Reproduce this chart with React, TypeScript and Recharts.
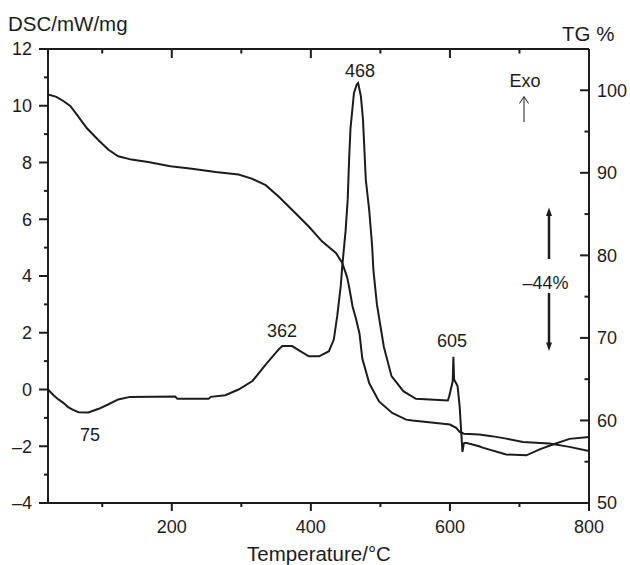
import React from "react";
import { ComposedChart, Line, XAxis, YAxis } from "recharts";

// DSC / TG thermogram.

const FONT = '"Liberation Sans", Arial, Helvetica, sans-serif';
const INK = "#1c1c1c";

const dscTemp = [
  22, 30, 37, 44, 51, 58, 66, 80, 95, 109, 123, 140, 205, 208, 253, 256, 277, 296, 316, 335,
  354, 359, 373, 383, 397, 412, 426, 433, 438, 443, 445, 450, 453, 455, 457, 462, 466, 468,
  472, 475, 477, 479, 484, 488, 490, 495, 505, 516, 533, 551, 597, 599, 604, 605, 606, 611,
  614, 616, 618, 620, 623, 642, 647, 681, 710, 729, 748, 772, 800,
];
const dscValue = [
  0.0, -0.2, -0.35, -0.47, -0.62, -0.72, -0.8, -0.81, -0.68, -0.52, -0.35, -0.26, -0.25, -0.33,
  -0.33, -0.26, -0.2, 0.0, 0.3, 0.88, 1.42, 1.53, 1.53, 1.38, 1.17, 1.17, 1.35, 1.76, 2.6, 3.65,
  4.3, 5.6, 6.7, 8.1, 9.2, 10.45, 10.75, 10.8, 10.33, 9.5, 8.45, 7.4, 6.3, 5.1, 4.2, 3.0, 1.5,
  0.47, -0.06, -0.33, -0.39, -0.24, 0.29, 1.15, 0.35, 0.12, -0.6, -1.4, -2.2, -1.9, -1.88, -2.0,
  -2.05, -2.29, -2.32, -2.11, -1.94, -1.74, -1.67,
];

const tgTemp = [
  22, 34, 44, 54, 63, 78, 94, 109, 123, 142, 166, 198, 229, 263, 296, 315, 335, 354, 378, 397,
  416, 436, 445, 452, 455, 460, 465, 470, 474, 484, 498, 517, 537, 546, 580, 600, 609, 614,
  620, 642, 660, 681, 705, 743, 772, 800,
];
const tgValue = [
  99.5, 99.2, 98.7, 98.1, 97.1, 95.4, 94.0, 92.8, 92.0, 91.6, 91.3, 90.8, 90.5, 90.1, 89.8, 89.3,
  88.5, 87.1, 85.1, 83.5, 81.7, 80.3, 79.1, 77.4, 76.2, 73.8, 72.3, 70.5, 67.5, 64.5, 62.3, 60.9,
  60.1, 60.0, 59.7, 59.5, 59.1, 58.6, 58.4, 58.3, 58.1, 57.8, 57.4, 57.2, 56.8, 56.3,
];

const tempTicks = [100, 200, 300, 400, 500, 600, 700, 800];
const dscTicks = [-4, -3, -2, -1, 0, 1, 2, 3, 4, 5, 6, 7, 8, 9, 10, 11, 12];
const tgTicks = [50, 55, 60, 65, 70, 75, 80, 85, 90, 95, 100, 105];

const dscData = dscTemp.map((t, i) => ({ t, v: dscValue[i] }));
const tgData = tgTemp.map((t, i) => ({ t, v: tgValue[i] }));

const txt = { fontFamily: FONT, fontSize: 18, fill: INK };
const dash = (v: number) => (v < 0 ? `–${Math.abs(v)}` : `${v}`);

// custom ticks: long major / short minor marks, labels only on majors
function LeftTick({ x, y, payload }: any) {
  const major = payload.value % 2 === 0;
  return (
    <g>
      <line x1={x - (major ? 9 : 4)} x2={x} y1={y} y2={y} stroke={INK} strokeWidth={2} />
      {major && (
        <text x={x - 16} y={y} dy="0.36em" textAnchor="end" {...txt}>
          {dash(payload.value)}
        </text>
      )}
    </g>
  );
}

function RightTick({ x, y, payload }: any) {
  const major = payload.value % 10 === 0;
  return (
    <g>
      <line x1={x - (major ? 9 : 4.5)} x2={x} y1={y} y2={y} stroke={INK} strokeWidth={2} />
      {major && (
        <text x={x + 8} y={y} dy="0.36em" textAnchor="start" {...txt}>
          {payload.value}
        </text>
      )}
    </g>
  );
}

function BottomTick({ x, y, payload }: any) {
  const major = payload.value % 200 === 0;
  return (
    <g>
      <line x1={x} x2={x} y1={y} y2={y + (major ? 8 : 4)} stroke={INK} strokeWidth={2} />
      {major && (
        <text x={x} y={y + 30} textAnchor="middle" {...txt}>
          {payload.value}
        </text>
      )}
    </g>
  );
}

function TopTick({ x, y, payload }: any) {
  const major = payload.value % 200 === 0;
  return <line x1={x} x2={x} y1={y} y2={y + (major ? 9 : 4.5)} stroke={INK} strokeWidth={2} />;
}

const axisLine = { stroke: INK, strokeWidth: 2 };

export default function App() {
  return (
    <div style={{ position: "absolute", left: 0, top: 0, width: 630, height: 565, background: "#fff" }}>
      <ComposedChart width={630} height={565} margin={{ top: 39, right: 0, bottom: 0, left: 0 }}>
        <XAxis
          dataKey="t"
          type="number"
          domain={[22, 800]}
          allowDataOverflow
          ticks={tempTicks}
          interval={0}
          height={62}
          tickSize={0}
          tickMargin={0}
          tickLine={false}
          axisLine={axisLine}
          tick={<BottomTick />}
        />
        <XAxis
          xAxisId="top"
          orientation="top"
          dataKey="t"
          type="number"
          domain={[22, 800]}
          allowDataOverflow
          ticks={tempTicks}
          interval={0}
          height={10}
          tickSize={0}
          tickMargin={0}
          tickLine={false}
          axisLine={axisLine}
          tick={<TopTick />}
        />
        <YAxis
          yAxisId="dsc"
          type="number"
          domain={[-4, 12]}
          allowDataOverflow
          ticks={dscTicks}
          interval={0}
          width={48}
          tickSize={0}
          tickMargin={0}
          tickLine={false}
          axisLine={axisLine}
          tick={<LeftTick />}
        />
        <YAxis
          yAxisId="tg"
          orientation="right"
          type="number"
          domain={[50, 105]}
          allowDataOverflow
          ticks={tgTicks}
          interval={0}
          width={41}
          tickSize={0}
          tickMargin={0}
          tickLine={false}
          axisLine={axisLine}
          tick={<RightTick />}
        />
        <Line
          xAxisId="top"
          yAxisId="tg"
          data={tgData}
          dataKey="v"
          type="linear"
          stroke={INK}
          strokeWidth={2}
          dot={false}
          isAnimationActive={false}
        />
        <Line
          yAxisId="dsc"
          data={dscData}
          dataKey="v"
          type="linear"
          stroke={INK}
          strokeWidth={2}
          dot={false}
          isAnimationActive={false}
        />
      </ComposedChart>

      <svg
        width={630}
        height={565}
        style={{ position: "absolute", left: 0, top: 0, pointerEvents: "none" }}
      >
        <text x={8} y={31} style={{ fontFamily: FONT, fontSize: 20.5 }} fill={INK}>
          DSC/mW/mg
        </text>
        <text x={562} y={40.5} style={{ fontFamily: FONT, fontSize: 20.5 }} fill={INK}>
          TG %
        </text>
        <text x={319} y={561} textAnchor="middle" style={{ fontFamily: FONT, fontSize: 20.5 }} fill={INK}>
          Temperature/°C
        </text>

        <text x={360} y={77} textAnchor="middle" {...txt}>468</text>
        <text x={282} y={337} textAnchor="middle" {...txt}>362</text>
        <text x={452} y={346.5} textAnchor="middle" {...txt}>605</text>
        <text x={90} y={441} textAnchor="middle" {...txt}>75</text>

        <text x={525} y={87} textAnchor="middle" {...txt}>Exo</text>
        <line x1={524} x2={524} y1={97} y2={122} stroke={INK} strokeWidth={1} />
        <polyline points="519.5,103.5 524,96.5 528.5,103.5" fill="none" stroke={INK} strokeWidth={1} />

        <text x={545.5} y={289} textAnchor="middle" {...txt}>–44%</text>
        <line x1={549} x2={549} y1={214} y2={259} stroke={INK} strokeWidth={2.5} />
        <polygon points="549,207.5 546,216 552,216" fill={INK} />
        <line x1={549} x2={549} y1={293} y2={345} stroke={INK} strokeWidth={2.5} />
        <polygon points="549,351 546,342.5 552,342.5" fill={INK} />
      </svg>
    </div>
  );
}
